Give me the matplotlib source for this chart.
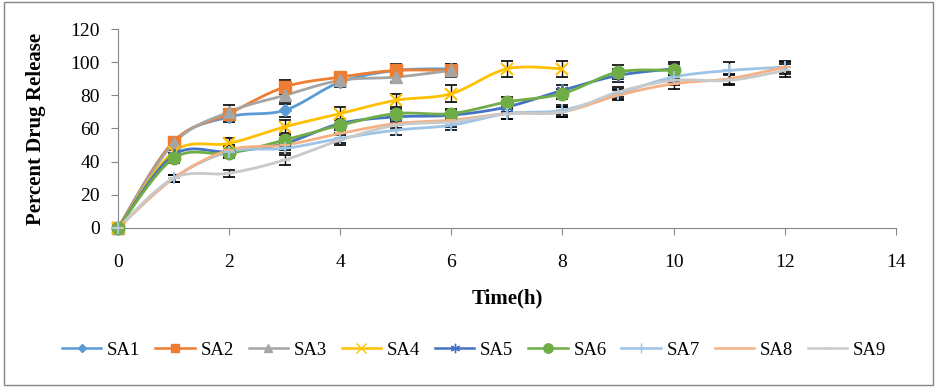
import numpy as np
import matplotlib
matplotlib.use('Agg')
import matplotlib.pyplot as plt
from matplotlib.patches import Rectangle

plt.rcParams['font.family'] = ['Liberation Serif', 'DejaVu Serif']

# data
names = ['SA1', 'SA2', 'SA3', 'SA4', 'SA5', 'SA6', 'SA7', 'SA8', 'SA9']
sa1 = [0, 52, 67, 71, 88, 95, 96]
sa2 = [0, 52, 69, 85, 91, 95, 95]
sa3 = [0, 51, 70, 80, 89, 91, 95]
sa4 = [0, 46, 51, 61, 69, 77, 81, 96, 96]
sa5 = [0, 44, 46, 51, 63, 67, 68, 73, 83, 92, 96]
sa6 = [0, 42, 45, 53, 62, 69, 69, 76, 81, 94, 95]
sa7 = [0, 30, 46, 48, 54, 59, 62, 69, 71, 81, 91, 95, 97]
sa8 = [0, 30, 47, 50, 57, 63, 65, 69, 70, 80, 87, 90, 97]
sa9 = [0, 30, 33, 41, 53, 62, 64, 69, 70, 82, 89, 89, 95]
err1 = [0, 3, 3, 4, 3, 3, 3]
err2 = [0, 3, 3, 4, 3, 4, 4]
err3 = [0, 3, 4, 4, 3, 3, 3]
err4 = [0, 3, 3, 4, 4, 4, 5, 5, 5]
err5 = [0, 3, 3, 3, 3, 3, 3, 3, 3, 4, 4]
err6 = [0, 3, 3, 3, 3, 3, 3, 3, 3, 4, 4]
err7 = [0, 2, 3, 3, 3, 3, 3, 3, 3, 3, 3, 5, 4]
err8 = [0, 2, 3, 3, 3, 3, 3, 3, 3, 3, 3, 3, 3]
err9 = [0, 2, 2, 3, 3, 3, 3, 3, 3, 3, 3, 3, 4]

series = [sa1, sa2, sa3, sa4, sa5, sa6, sa7, sa8, sa9]
errors = [err1, err2, err3, err4, err5, err6, err7, err8, err9]
colors = ['#5B9BD5', '#ED7D31', '#A5A5A5', '#FFC000', '#4472C4',
          '#70AD47', '#9DC3E6', '#F4B183', '#C9C9C9']
markers = ['D', 's', '^', 'x', (6, 2, 0), 'o', '+', '_', '_']
msizes = [6, 8, 8, 9, 9, 9, 9, 7, 7]


def smooth(x, y, n=20):
    # catmull-rom curve through the points, like Excel's smoothed lines
    x = np.asarray(x, float)
    y = np.asarray(y, float)
    px = np.concatenate([[x[0]], x, [x[-1]]])
    py = np.concatenate([[y[0]], y, [y[-1]]])
    xs, ys = [], []
    t = np.linspace(0, 1, n)
    for i in range(1, len(px) - 2):
        for p, out in ((px, xs), (py, ys)):
            p0, p1, p2, p3 = p[i - 1], p[i], p[i + 1], p[i + 2]
            out.extend(0.5 * ((2 * p1) + (-p0 + p2) * t
                              + (2 * p0 - 5 * p1 + 4 * p2 - p3) * t ** 2
                              + (-p0 + 3 * p1 - 3 * p2 + p3) * t ** 3))
    return xs, ys


fig = plt.figure(figsize=(9.37, 3.87), dpi=100)
ax = fig.add_axes([0.126, 0.411, 0.830, 0.514])

for name, y, e, c, m, ms in zip(names, series, errors, colors, markers, msizes):
    x = np.arange(len(y))
    ax.errorbar(x, y, yerr=e, fmt='none', ecolor='black', elinewidth=1,
                capsize=4, capthick=1.2, zorder=2)
    sx, sy = smooth(x, y)
    ax.plot(sx, sy, color=c, lw=2, zorder=3)
    ax.plot(x, y, linestyle='none', marker=m, color=c, ms=ms, clip_on=False,
            mew=1.5 if m in ('x', '+', (6, 2, 0), '_') else 1, zorder=4)
    ax.plot([], [], color=c, lw=1.8, marker=m, ms=ms * 0.75, label=name)

ax.set_xlim(0, 14)
ax.set_ylim(0, 120)
ax.set_xticks(range(0, 15, 2))
ax.set_yticks(range(0, 121, 20))
for s in ('top', 'right'):
    ax.spines[s].set_visible(False)
for s in ('left', 'bottom'):
    ax.spines[s].set_color('#868686')
ax.tick_params(colors='#868686', labelcolor='black', labelsize=14, length=5)
ax.tick_params(axis='y', pad=8)
ax.tick_params(axis='x', pad=14)
ax.set_xlabel('Time(h)', fontsize=15, fontweight='bold', labelpad=12)
ax.set_ylabel('Percent Drug Release', fontsize=15, fontweight='bold', labelpad=18)

fig.legend(loc='center', bbox_to_anchor=(0.506, 0.095), ncol=9, frameon=False,
           fontsize=13.5, handlelength=2.1, columnspacing=0.8, handletextpad=0.3)

fig.patches.append(Rectangle((0.004, 0.005), 0.992, 0.99, transform=fig.transFigure,
                             fill=False, edgecolor='#868686', lw=1))

fig.savefig('out.png', dpi=100)
